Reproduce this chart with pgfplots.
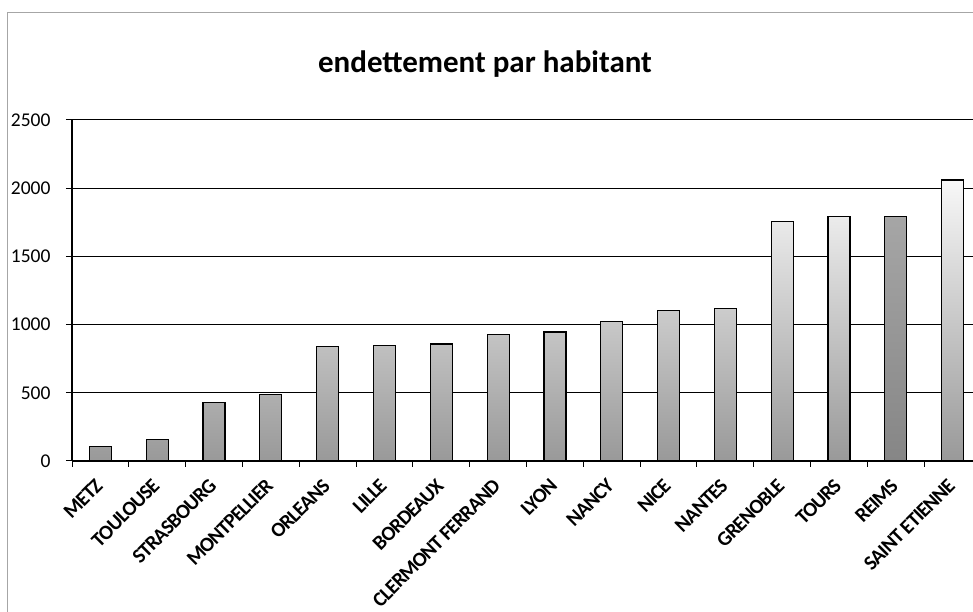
\documentclass[border=0pt]{standalone}
\usepackage{pgfplots}
\pgfplotsset{compat=1.18}
\usepackage{fontspec}
\setmainfont{Carlito}
\newfontfamily\labfont[LetterSpace=-4]{Carlito}
\begin{document}
\begin{tikzpicture}[x=1pt,y=1pt]
\begin{axis}[
  at={(72pt,151pt)}, anchor=south west,
  scale only axis, width=909pt, height=341pt,
  xmin=-0.5, xmax=15.5, ymin=0, ymax=2500,
  axis lines*=left,
  axis line style={black, line width=1.2pt},
  ytick={0,500,1000,1500,2000,2500},
  ymajorgrids, grid style={black, line width=1pt},
  xtick={-0.5,0.5,...,15.5},
  x tick label as interval,
  xticklabels={METZ,TOULOUSE,STRASBOURG,MONTPELLIER,ORLEANS,LILLE,BORDEAUX,CLERMONT FERRAND,LYON,NANCY,NICE,NANTES,GRENOBLE,TOURS,REIMS,SAINT ETIENNE},
  tick align=outside, major tick length=6pt,
  tick style={black, line width=1pt},
  x tick label style={xshift=-6pt, yshift=-9pt, rotate=45, anchor=north east, inner sep=1pt, font=\labfont\bfseries\fontsize{20.5}{22}\selectfont},
  y tick label style={font=\fontsize{19.5}{22}\selectfont, xshift=-12pt},
  /pgf/number format/assume math mode=true,
  /pgf/number format/1000 sep={},
  clip=false,
]
\addplot[ybar, bar width=22pt, bar shift=0pt, draw=black, line width=1.2pt, top color=gray!6, bottom color=gray!80]
 coordinates {(0,105) (1,160) (2,428) (3,490) (4,840) (5,845) (6,858) (7,925) (8,945) (9,1025) (10,1105) (11,1120) (12,1755) (13,1790) (15,2060)};
\addplot[ybar, bar width=22pt, bar shift=0pt, draw=black, line width=1.2pt, top color=gray!70, bottom color=gray!95]
 coordinates {(14,1790)};
\end{axis}
\node[font=\bfseries\fontsize{31}{36}\selectfont] at (485,548) {endettement par habitant};
\draw[gray!70, line width=0.8pt] (7,-10) rectangle (1000,600);
\pgfresetboundingbox
\path (0,0) rectangle (973,612);
\end{tikzpicture}
\end{document}
